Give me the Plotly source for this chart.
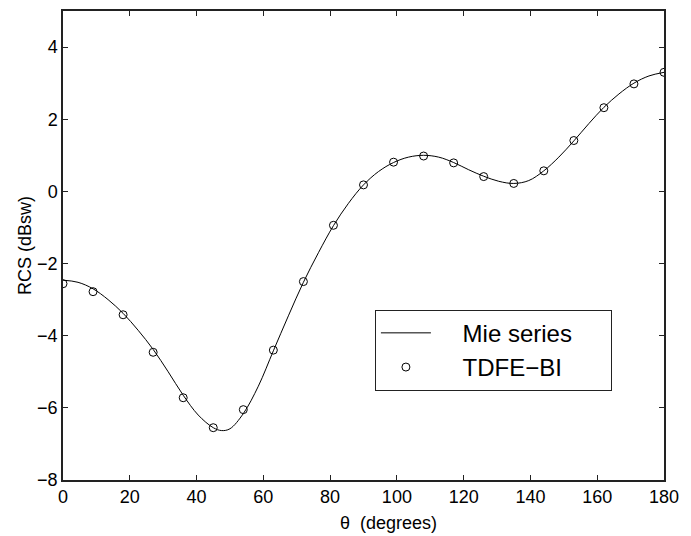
import plotly.graph_objects as go

# TDFE-BI samples (every 9 degrees)
theta_pts = [0, 9, 18, 27, 36, 45, 54, 63, 72, 81, 90, 99, 108, 117, 126, 135, 144, 153, 162, 171, 180]
rcs_pts = [-2.56, -2.78, -3.42, -4.46, -5.72, -6.55, -6.05, -4.40, -2.50, -0.94, 0.18, 0.81,
           0.98, 0.79, 0.41, 0.22, 0.57, 1.41, 2.32, 2.98, 3.30]

# Mie series curve
theta_mie = [0, 4.5, 9, 13.5, 18, 22.5, 27, 31.5, 36, 40.5, 45, 47.5, 50, 54, 58.5, 63, 67.5, 72,
             76.5, 81, 85.5, 90, 94.5, 99, 103.5, 108, 112.5, 117, 121.5, 126, 130.5, 135,
             139.5, 144, 148.5, 153, 157.5, 162, 166.5, 171, 175.5, 180]
rcs_mie = [-2.46, -2.52, -2.70, -3.00, -3.38, -3.85, -4.38, -5.00, -5.65, -6.20, -6.55, -6.63,
           -6.58, -6.16, -5.40, -4.42, -3.45, -2.52, -1.70, -0.95, -0.33, 0.18, 0.55, 0.80,
           0.95, 1.00, 0.95, 0.80, 0.60, 0.42, 0.28, 0.22, 0.30, 0.57, 0.95, 1.40, 1.88,
           2.33, 2.70, 3.00, 3.20, 3.30]

x_ticks = [0, 20, 40, 60, 80, 100, 120, 140, 160, 180]
y_ticks = [-8, -6, -4, -2, 0, 2, 4]

FONT = "Liberation Sans, Arial, Helvetica, sans-serif"
NB = "\u00a0"

fig = go.Figure()
fig.add_trace(go.Scatter(
    x=theta_mie, y=rcs_mie, mode="lines", name=NB * 4 + "Mie series" + NB * 5,
    line=dict(color="black", width=1, shape="spline"),
))
fig.add_trace(go.Scatter(
    x=theta_pts, y=rcs_pts, mode="markers", name=NB * 4 + "TDFE\u2212BI",
    marker=dict(symbol="circle-open", size=8, color="black", line=dict(width=1, color="black")),
))

axis_common = dict(
    showline=True, linecolor="#222", linewidth=1.5, mirror="ticks",
    ticks="inside", ticklen=5, tickwidth=1, tickcolor="#222",
    showgrid=False, zeroline=False,
    tickfont=dict(family=FONT, size=18, color="black"),
)

fig.update_layout(
    width=691, height=536,
    margin=dict(l=63, r=27, t=9, b=56),
    paper_bgcolor="white", plot_bgcolor="white",
    showlegend=True,
    legend=dict(
        x=0.519, y=0.363, xanchor="left", yanchor="top",
        bgcolor="white", bordercolor="#222", borderwidth=1,
        font=dict(family=FONT, size=24, color="black"),
        itemwidth=50, tracegroupgap=0,
    ),
    xaxis=dict(range=[0, 180], tickvals=x_ticks, **axis_common),
    yaxis=dict(range=[-8, 5], tickvals=y_ticks,
               ticktext=[("\u2212" + str(-v)) if v < 0 else str(v) for v in y_ticks],
               **axis_common),
    annotations=[
        dict(text="\u03b8  (degrees)", x=388, y=523, xref="paper", yref="paper",
             xanchor="center", yanchor="middle",
             showarrow=False, font=dict(family=FONT, size=18, color="black")),
        dict(text="RCS (dBsw)", x=25, y=245, xref="paper", yref="paper", textangle=-90,
             xanchor="center", yanchor="middle",
             showarrow=False, font=dict(family=FONT, size=18, color="black")),
    ],
)

# convert annotation pixel positions to paper coordinates
pw, ph = 691 - 63 - 27, 536 - 9 - 56
for a in fig.layout.annotations:
    a.x = (a.x - 63) / pw
    a.y = (536 - 56 - a.y) / ph

fig.write_html("out.html")
